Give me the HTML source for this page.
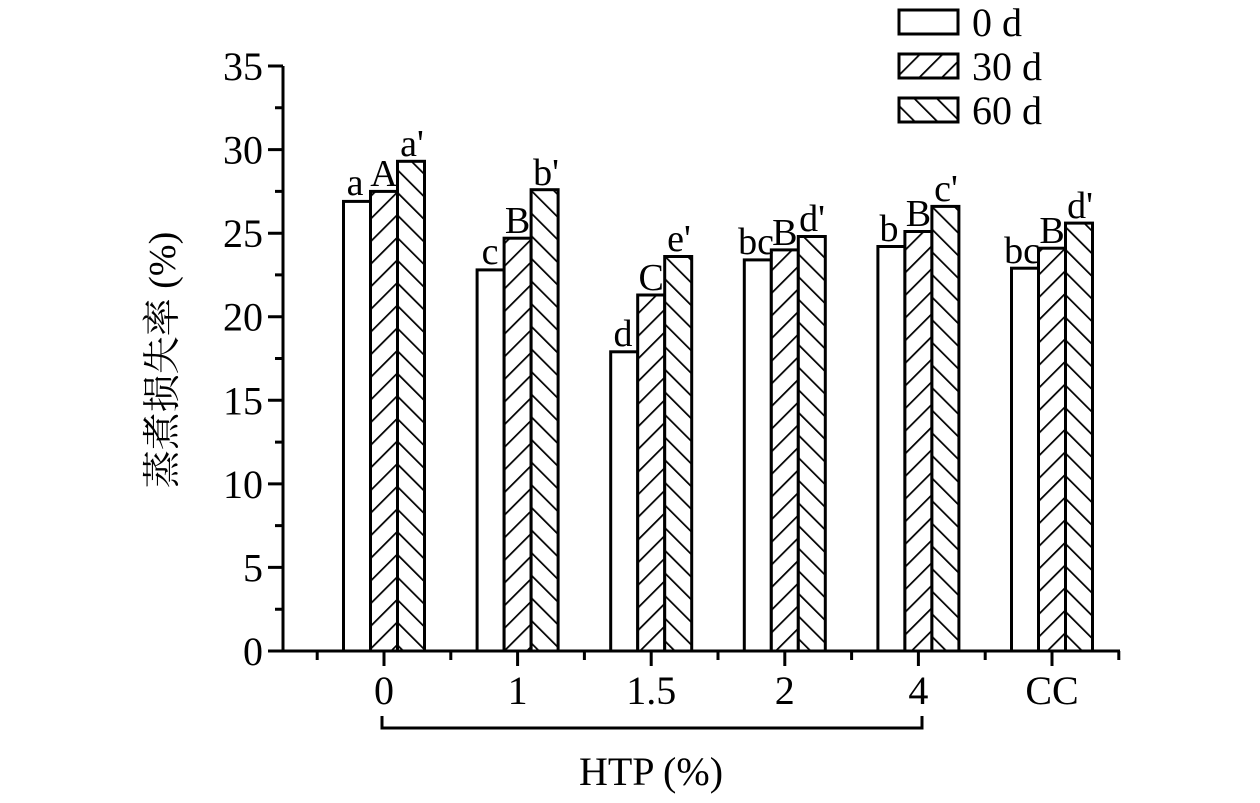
<!DOCTYPE html>
<html><head><meta charset="utf-8"><style>body{margin:0;background:#fff}</style></head><body>
<svg width="1260" height="798" xmlns="http://www.w3.org/2000/svg" font-family="'Liberation Serif','Noto Serif CJK SC',serif">
<defs>
<pattern id="f" patternUnits="userSpaceOnUse" width="16" height="16" patternTransform="rotate(45)"><rect width="16" height="16" fill="#fff"/><line x1="0" y1="0" x2="0" y2="16" stroke="#000" stroke-width="3.5"/></pattern>
<pattern id="b" patternUnits="userSpaceOnUse" width="16" height="16" patternTransform="rotate(-45)"><rect width="16" height="16" fill="#fff"/><line x1="0" y1="0" x2="0" y2="16" stroke="#000" stroke-width="3.5"/></pattern>
</defs>
<g stroke="#000" stroke-width="3">
<rect x="343.5" y="201.4" width="27" height="449.6" fill="#fff"/>
<rect x="370.5" y="191.4" width="27" height="459.6" fill="url(#f)"/>
<rect x="397.5" y="161.3" width="27" height="489.7" fill="url(#b)"/>
<rect x="477.1" y="269.9" width="27" height="381.1" fill="#fff"/>
<rect x="504.1" y="238.2" width="27" height="412.8" fill="url(#f)"/>
<rect x="531.1" y="189.7" width="27" height="461.3" fill="url(#b)"/>
<rect x="610.7" y="351.8" width="27" height="299.2" fill="#fff"/>
<rect x="637.7" y="295.0" width="27" height="356.0" fill="url(#f)"/>
<rect x="664.7" y="256.5" width="27" height="394.5" fill="url(#b)"/>
<rect x="744.3" y="259.9" width="27" height="391.1" fill="#fff"/>
<rect x="771.3" y="249.9" width="27" height="401.1" fill="url(#f)"/>
<rect x="798.3" y="236.5" width="27" height="414.5" fill="url(#b)"/>
<rect x="877.9" y="246.5" width="27" height="404.5" fill="#fff"/>
<rect x="904.9" y="231.5" width="27" height="419.5" fill="url(#f)"/>
<rect x="931.9" y="206.4" width="27" height="444.6" fill="url(#b)"/>
<rect x="1011.5" y="268.2" width="27" height="382.8" fill="#fff"/>
<rect x="1038.5" y="248.2" width="27" height="402.8" fill="url(#f)"/>
<rect x="1065.5" y="223.1" width="27" height="427.9" fill="url(#b)"/>
</g>
<g font-size="38" text-anchor="middle">
<text x="355" y="195">a</text><text x="384" y="186">A</text><text x="412" y="156">a'</text>
<text x="490" y="264">c</text><text x="517.6" y="233">B</text><text x="546" y="185">b'</text>
<text x="623" y="346">d</text><text x="651.2" y="290">C</text><text x="679" y="251">e'</text>
<text x="756" y="254">bc</text><text x="784.8" y="245">B</text><text x="812" y="231">d'</text>
<text x="889" y="241">b</text><text x="918.4" y="226">B</text><text x="946" y="201">c'</text>
<text x="1022" y="263">bc</text><text x="1052" y="243">B</text><text x="1080" y="218">d'</text>
</g>
<g stroke="#000" stroke-width="3" fill="none">
<line x1="283" y1="66" x2="283" y2="651"/>
<line x1="281.5" y1="651" x2="1120" y2="651"/>
<path d="M268 651H283M268 567.4H283M268 483.9H283M268 400.3H283M268 316.7H283M268 233.2H283M268 149.6H283M268 66H283"/>
<path d="M275 609.2H283M275 525.6H283M275 442.1H283M275 358.5H283M275 274.9H283M275 191.4H283M275 107.8H283"/>
<path d="M384 651V666M517.6 651V666M651.2 651V666M784.8 651V666M918.4 651V666M1052 651V666"/>
<path d="M317.2 651V660M450.8 651V660M584.4 651V660M718 651V660M851.6 651V660M985.2 651V660M1118.8 651V660"/>
<polyline points="382,716 382,728 922,728 922,716"/>
</g>
<g font-size="40" text-anchor="end">
<text x="263" y="665">0</text><text x="263" y="581.4">5</text><text x="263" y="497.9">10</text><text x="263" y="414.3">15</text><text x="263" y="330.7">20</text><text x="263" y="247.2">25</text><text x="263" y="163.6">30</text><text x="263" y="80">35</text>
</g>
<g font-size="40" text-anchor="middle">
<text x="384" y="704">0</text><text x="517.6" y="704">1</text><text x="651.2" y="704">1.5</text><text x="784.8" y="704">2</text><text x="918.4" y="704">4</text><text x="1052" y="704">CC</text>
<text x="651" y="785">HTP (%)</text>
</g>
<text transform="translate(175,360) rotate(-90)" font-size="38" text-anchor="middle">蒸煮损失率 (%)</text>
<g stroke="#000" stroke-width="3">
<rect x="899" y="10" width="59" height="24" fill="#fff"/>
<rect x="899" y="54" width="59" height="24" fill="url(#f)"/>
<rect x="899" y="98" width="59" height="24" fill="url(#b)"/>
</g>
<g font-size="40">
<text x="972" y="36">0 d</text><text x="972" y="80">30 d</text><text x="972" y="124">60 d</text>
</g>
</svg>
</body></html>
